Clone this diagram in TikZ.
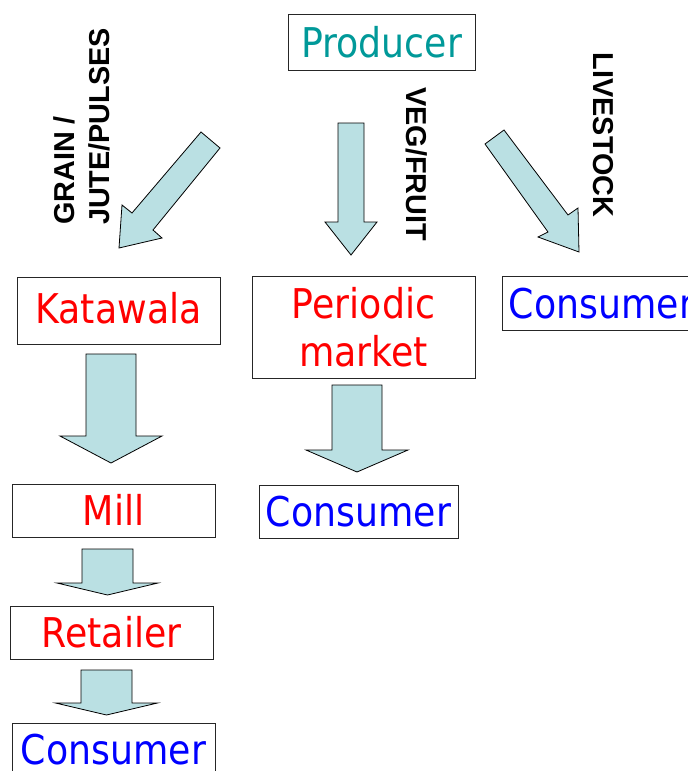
\documentclass[tikz,border=0pt]{standalone}
\usepackage{fontspec}
\newfontfamily\boxfont[FakeStretch=0.885]{DejaVu Sans}
\newfontfamily\lblfont{Liberation Sans}
\definecolor{arrowfill}{RGB}{186,224,227}
\definecolor{prodteal}{RGB}{0,153,153}
\definecolor{txtred}{RGB}{255,0,0}
\definecolor{txtblue}{RGB}{0,0,255}
\newcommand\varrow[6]{\draw[blk] (#1-#4,#2) -- (#1+#4,#2) -- (#1+#4,#3) -- (#1+#5,#3) -- (#1,#6) -- (#1-#5,#3) -- (#1-#4,#3) -- cycle;}
\tikzset{
  box/.style={draw=black!85, line width=0.9pt, inner sep=0pt, align=center,
    font=\boxfont\fontsize{41}{48}\selectfont},
  oneline/.style={box, text height=30pt, text depth=0pt},
  blk/.style={draw=black, line width=0.8pt, fill=arrowfill, line join=miter},
  lbl/.style={inner sep=0pt, font=\lblfont\bfseries\fontsize{28.8}{35}\selectfont}
}
\begin{document}
\begin{tikzpicture}[x=1pt,y=-1pt]
\fill[white] (0,0) rectangle (688,771);
\useasboundingbox (0,0) rectangle (688,771);
% boxes
\node[oneline, minimum width=187pt, minimum height=56pt, text=prodteal] (prod) at (381.5,42) {Producer};
\node[oneline, minimum width=203pt, minimum height=67pt, text=txtred] (kat) at (118.5,310.5) {\raisebox{2pt}{Katawala}};
\node[box, minimum width=223pt, minimum height=102pt, text=txtred] (per) at (363.5,327) {Periodic\\market};
\node[oneline, minimum width=199pt, minimum height=54pt, text=txtblue] (conR) at (601.5,303) {Consumer};
\node[oneline, minimum width=199pt, minimum height=53pt, text=txtblue] (conM) at (358.5,511.5) {Consumer};
\node[oneline, minimum width=203pt, minimum height=53pt, text=txtred] (mill) at (113.5,510.5) {Mill};
\node[oneline, minimum width=203pt, minimum height=53pt, text=txtred] (ret) at (111.5,632.5) {Retailer};
\node[oneline, minimum width=203pt, minimum height=53pt, text=txtblue] (conB) at (113.5,749.5) {Consumer};
% labels
\node[lbl, rotate=90, align=left] (lgrain) at (81.5,126.5) {GRAIN /\\JUTE/PULSES};
\node[lbl, rotate=-90] (lveg) at (417,164) {VEG/FRUIT};
\node[lbl, rotate=-90] (llive) at (603,135) {LIVESTOCK};
% diagonal block arrows
\draw[blk] (201,132) -- (220,148) -- (153,230) -- (162,238) -- (119,248) -- (122,205) -- (132,213) -- cycle;
\draw[blk] (485,144) -- (548,232) -- (538,237) -- (579,252) -- (578,208) -- (568,215) -- (504,130) -- cycle;
% vertical block arrows
\varrow{351}{123}{222}{13}{26}{255}
\varrow{111}{354}{436}{25}{51}{463}
\varrow{357}{385}{450}{25}{51}{472}
\varrow{107.5}{549}{583}{25.5}{50.5}{595}
\varrow{106.5}{670}{703}{25.5}{51}{715}
\end{tikzpicture}
\end{document}
